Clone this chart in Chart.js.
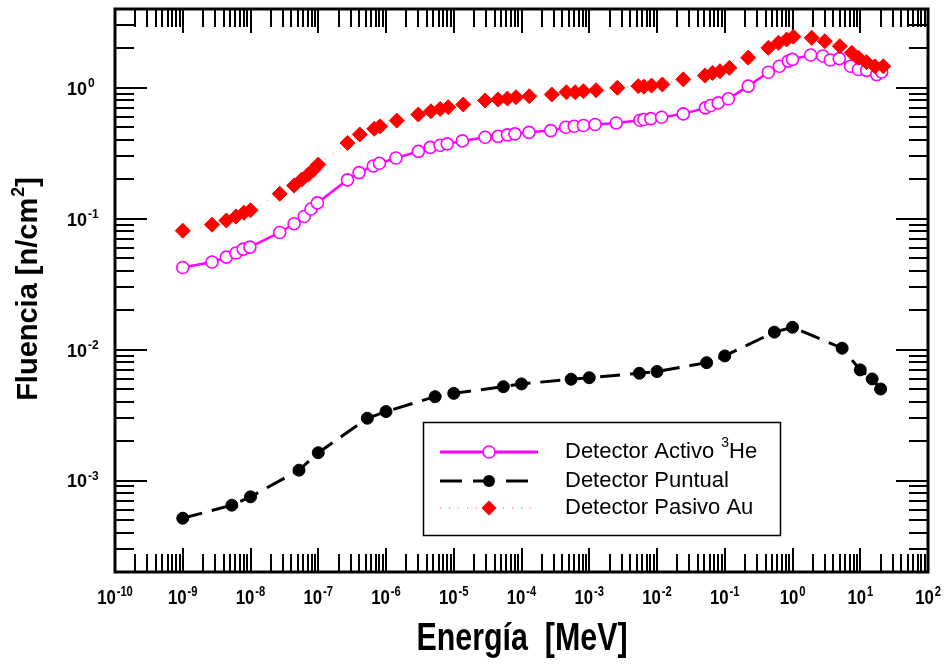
<!DOCTYPE html>
<html><head><meta charset="utf-8">
<script src="https://cdn.jsdelivr.net/npm/chart.js@4/dist/chart.umd.min.js"></script>
<style>html,body{margin:0;padding:0;background:#fff}#wrap{width:948px;height:665px}</style>
</head><body><div id="wrap"><canvas id="c" width="948" height="665"></canvas></div>
<script>
// ---- data ----
const energyHe3 = [1e-9,2.7e-9,4.4e-9,6.1e-9,7.8e-9,9.8e-9,2.7e-8,4.4e-8,6.2e-8,7.8e-8,9.7e-8,2.7e-7,4.0e-7,6.5e-7,8.0e-7,1.4e-6,3.0e-6,4.5e-6,6.3e-6,8.0e-6,1.34e-5,2.9e-5,4.5e-5,6.2e-5,8.0e-5,1.29e-4,2.7e-4,4.5e-4,6.0e-4,8.2e-4,1.22e-3,2.5e-3,5.6e-3,6.4e-3,8.1e-3,1.17e-2,2.44e-2,5.2e-2,6.2e-2,8.0e-2,0.113,0.222,0.44,0.64,0.867,1.0,1.85,2.8,3.6,4.9,7.2,9.4,12.4,17.5,20.7];
const fluenceHe3 = [0.0424,0.0467,0.0509,0.0547,0.0586,0.0607,0.0785,0.0916,0.104,0.1187,0.132,0.198,0.225,0.253,0.265,0.291,0.327,0.351,0.364,0.373,0.393,0.419,0.426,0.437,0.445,0.457,0.471,0.50,0.508,0.515,0.524,0.539,0.565,0.572,0.582,0.596,0.632,0.703,0.732,0.767,0.824,1.03,1.316,1.46,1.60,1.65,1.78,1.75,1.63,1.67,1.46,1.38,1.36,1.26,1.32];

const energyPuntual = [1e-9,5.3e-9,1e-8,5.2e-8,1e-7,5.3e-7,1e-6,5.3e-6,1e-5,5.4e-5,1e-4,5.4e-4,1e-3,5.5e-3,1e-2,5.4e-2,0.1,0.54,1.0,5.4,10,15,20];
const fluencePuntual = [5.15e-4,6.48e-4,7.5e-4,1.2e-3,1.63e-3,2.99e-3,3.36e-3,4.37e-3,4.63e-3,5.21e-3,5.47e-3,5.94e-3,6.1e-3,6.6e-3,6.8e-3,7.95e-3,8.95e-3,0.0136,0.0148,0.01025,7.0e-3,5.97e-3,5.0e-3];

const energyAu = [1e-9,2.7e-9,4.4e-9,6.1e-9,8.0e-9,1.0e-8,2.7e-8,4.4e-8,5.7e-8,7.1e-8,8.5e-8,1.0e-7,2.7e-7,4.1e-7,6.7e-7,8.2e-7,1.44e-6,3.0e-6,4.6e-6,6.3e-6,8.3e-6,1.38e-5,2.9e-5,4.5e-5,6.2e-5,8.3e-5,1.3e-4,2.8e-4,4.6e-4,6.2e-4,8.2e-4,1.26e-3,2.6e-3,5.3e-3,6.4e-3,8.3e-3,1.2e-2,2.44e-2,5.1e-2,6.6e-2,8.5e-2,0.117,0.222,0.44,0.62,0.82,1.03,1.92,3.0,5.0,7.5,9.4,12.4,16.5,21.9];
const fluenceAu = [0.081,0.090,0.097,0.104,0.111,0.116,0.155,0.179,0.199,0.217,0.237,0.259,0.379,0.44,0.486,0.508,0.562,0.625,0.662,0.69,0.711,0.745,0.80,0.813,0.828,0.848,0.863,0.889,0.925,0.925,0.942,0.959,1.0,1.03,1.02,1.04,1.06,1.16,1.24,1.30,1.34,1.42,1.70,2.02,2.21,2.34,2.46,2.41,2.27,2.08,1.85,1.70,1.57,1.46,1.46];

const xTickExponents = [-10,-9,-8,-7,-6,-5,-4,-3,-2,-1,0,1,2];
const yTickExponents = [-3,-2,-1,0];
const xRange = [1e-10, 100];
const yRange = [2e-4, 4];
const legendLabels = [["Detector Activo ", "3", "He"], ["Detector Puntual"], ["Detector Pasivo Au"]];
const xTitle = "Energía  [MeV]";
const yTitle = ["Fluencia [n/cm", "2", "]"];

function pts(xs, ys){ return xs.map((x,i)=>({x:x, y:ys[i]})); }

const SANS = "'Liberation Sans',Arial,sans-serif";

// text with optional superscript; sx = horizontal condensation factor
function supText(ctx, parts, x, y, size, supSize, weight, align, rise, sx){
  sx = sx || 1;
  const widths = [], fonts = [];
  parts.forEach((p,i)=>{
    const f = `${weight} ${i===1?supSize:size}px ${SANS}`;
    ctx.font = f; fonts.push(f);
    widths.push(ctx.measureText(p).width + (i===1?1:0));
  });
  const total = widths.reduce((a,b)=>a+b,0)*sx;
  const x0 = align==='center' ? x-total/2 : (align==='right' ? x-total : x);
  ctx.save();
  ctx.translate(x0, y);
  ctx.scale(sx, 1);
  ctx.textAlign='left'; ctx.textBaseline='middle';
  let cx = 0;
  parts.forEach((p,i)=>{
    ctx.font = fonts[i];
    ctx.fillText(p, cx + (i===1?1:0), i===1 ? -rise : 0);
    cx += widths[i];
  });
  ctx.restore();
}

const framePlugin = {
  id:'frame',
  beforeDatasetsDraw(chart){
    const ctx = chart.ctx, a = chart.chartArea;
    const xs = chart.scales.x, ys = chart.scales.y;
    ctx.save();
    ctx.strokeStyle='#000'; ctx.lineWidth=2; ctx.lineCap='butt';
    for (let e=-10; e<=2; e++){
      for (let m=1; m<=9; m++){
        const v = m*Math.pow(10,e);
        if (v < xRange[0]*0.999 || v > xRange[1]*1.001) continue;
        const px = Math.round(xs.getPixelForValue(v));
        const len = m===1 ? 24 : 18;
        ctx.beginPath();
        ctx.moveTo(px, a.bottom); ctx.lineTo(px, a.bottom-len);
        ctx.moveTo(px, a.top); ctx.lineTo(px, a.top+len);
        ctx.stroke();
      }
    }
    for (let e=-4; e<=0; e++){
      for (let m=1; m<=9; m++){
        const v = m*Math.pow(10,e);
        if (v < yRange[0]*0.999 || v > yRange[1]*1.001) continue;
        const py = Math.round(ys.getPixelForValue(v));
        const len = m===1 ? 32 : 19;
        ctx.beginPath();
        ctx.moveTo(a.left, py); ctx.lineTo(a.left+len, py);
        ctx.moveTo(a.right, py); ctx.lineTo(a.right-len, py);
        ctx.stroke();
      }
    }
    ctx.lineWidth=3;
    ctx.strokeRect(a.left, a.top, a.right-a.left, a.bottom-a.top);
    ctx.restore();
  },
  afterDraw(chart){
    const ctx = chart.ctx;
    const xs = chart.scales.x, ys = chart.scales.y;
    ctx.save();
    ctx.fillStyle='#000';
    xTickExponents.forEach(e=>{
      const px = xs.getPixelForValue(Math.pow(10,e));
      supText(ctx, ["10", String(e)], px, 598, 21, 14, 'bold', 'center', 6, 0.8);
    });
    yTickExponents.forEach(e=>{
      const py = ys.getPixelForValue(Math.pow(10,e));
      supText(ctx, ["10", String(e)], 67, py+2, 18, 12, 'bold', 'left', 6, 1);
    });
    // x title (condensed bold)
    supText(ctx, [xTitle], 522, 640, 38, 38, 'bold', 'center', 0, 0.8);
    // y title
    ctx.save();
    ctx.translate(29, 289);
    ctx.rotate(-Math.PI/2);
    supText(ctx, yTitle, 0, 0, 29, 18, 'bold', 'center', 10, 1);
    ctx.restore();

    // legend
    const bx=423.5, by=422.5, bw=357, bh=113;
    ctx.fillStyle='#fff';
    ctx.fillRect(bx,by,bw,bh);
    ctx.strokeStyle='#000'; ctx.lineWidth=1.5;
    ctx.strokeRect(bx,by,bw,bh);
    const rows=[452,481,508];
    const ds = chart.data.datasets;
    const sx0=440, sx1=538, mx=489;
    ctx.strokeStyle=ds[0].borderColor; ctx.lineWidth=3;
    ctx.beginPath(); ctx.moveTo(sx0,rows[0]); ctx.lineTo(sx1,rows[0]); ctx.stroke();
    ctx.beginPath(); ctx.arc(mx,rows[0],ds[0].pointRadius,0,Math.PI*2);
    ctx.fillStyle='#fff'; ctx.fill(); ctx.lineWidth=ds[0].pointBorderWidth; ctx.stroke();
    ctx.strokeStyle='#000'; ctx.lineWidth=3;
    ctx.beginPath();
    ctx.moveTo(440,rows[1]); ctx.lineTo(462,rows[1]);
    ctx.moveTo(473,rows[1]); ctx.lineTo(489,rows[1]);
    ctx.moveTo(506,rows[1]); ctx.lineTo(528,rows[1]);
    ctx.stroke();
    ctx.beginPath(); ctx.arc(mx,rows[1],ds[1].pointRadius,0,Math.PI*2);
    ctx.fillStyle='#000'; ctx.fill();
    ctx.strokeStyle=ds[2].borderColor; ctx.lineWidth=2; ctx.setLineDash(ds[2].borderDash);
    ctx.beginPath(); ctx.moveTo(sx0,rows[2]); ctx.lineTo(sx1,rows[2]); ctx.stroke();
    ctx.setLineDash([]);
    const r=ds[2].pointRadius;
    ctx.beginPath(); ctx.moveTo(mx,rows[2]-r); ctx.lineTo(mx+r,rows[2]); ctx.lineTo(mx,rows[2]+r); ctx.lineTo(mx-r,rows[2]); ctx.closePath();
    ctx.fillStyle='#ff0000'; ctx.fill();
    ctx.fillStyle='#000';
    legendLabels.forEach((lab,i)=>{
      supText(ctx, lab, 565, rows[i], 22, 14, 'normal', 'left', 9, 1);
    });
    ctx.restore();
  }
};

new Chart(document.getElementById('c'), {
  type:'line',
  data:{
    datasets:[
      { label:'Detector Activo 3He', data:pts(energyHe3, fluenceHe3),
        borderColor:'#ff00ff', borderWidth:2.5, pointStyle:'circle', pointRadius:6,
        pointBackgroundColor:'#ffffff', pointBorderColor:'#ff00ff', pointBorderWidth:1.6,
        tension:0, order:1 },
      { label:'Detector Puntual', data:pts(energyPuntual, fluencePuntual),
        borderColor:'#000000', borderWidth:3, borderDash:[20,10], pointStyle:'circle', pointRadius:6,
        pointBackgroundColor:'#000000', pointBorderColor:'#000000', pointBorderWidth:1,
        tension:0, order:2 },
      { label:'Detector Pasivo Au', data:pts(energyAu, fluenceAu),
        borderColor:'rgba(255,90,90,0.55)', borderWidth:1.5, borderDash:[1,8], pointStyle:'rectRot', pointRadius:7.5,
        pointBackgroundColor:'#ff0000', pointBorderColor:'#ff0000', pointBorderWidth:1,
        tension:0, order:0 }
    ]
  },
  options:{
    responsive:false, animation:false, devicePixelRatio:1,
    layout:{padding:{left:115, right:20, top:9, bottom:93}},
    scales:{
      x:{type:'logarithmic', min:xRange[0], max:xRange[1], display:false},
      y:{type:'logarithmic', min:yRange[0], max:yRange[1], display:false}
    },
    plugins:{legend:{display:false}, tooltip:{enabled:false}},
    elements:{line:{fill:false}}
  },
  plugins:[framePlugin]
});
</script></body></html>
